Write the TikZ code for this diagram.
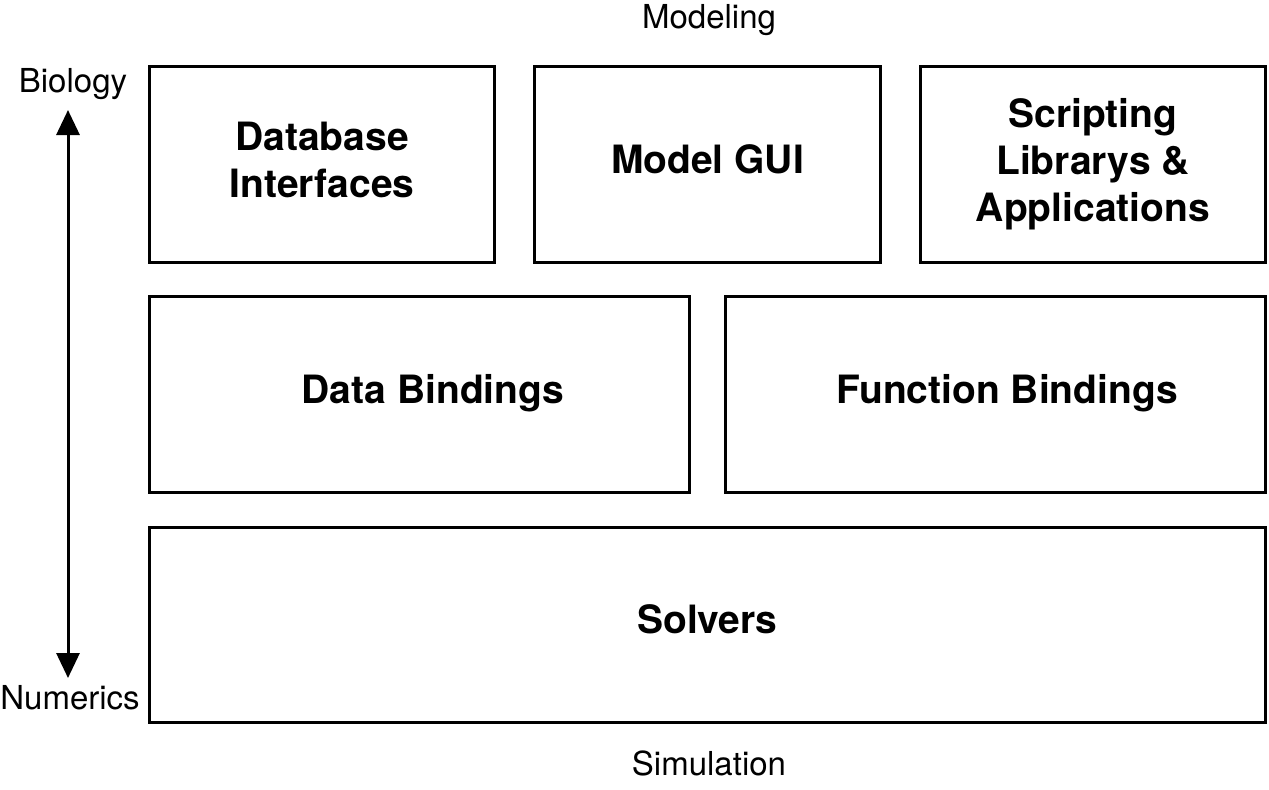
\documentclass[tikz,border=0pt]{standalone}
\usepackage{fontspec}
\setmainfont{TeX Gyre Heros}
\usetikzlibrary{positioning}
\usetikzlibrary{arrows.meta}

\tikzset{
    layer/.style={draw, line width=1.5pt, align=center, inner sep=0pt,
        font=\fontsize{19.5}{23.5}\selectfont\bfseries},
    single/.style={text height=14pt, text depth=5.5pt},
    axislabel/.style={font=\fontsize{16.5}{19}\selectfont, inner sep=0pt}
}

\begin{document}
\begin{tikzpicture}[x=0.5pt, y=-0.5pt]
    \useasboundingbox (0,0) rectangle (1269,789); % page size as the image
    % top row
    \node[layer, minimum width=172.5pt, minimum height=98pt] (dbif) at (322,164.5) {Database\\Interfaces\vphantom{g}};
    \node[layer, single, minimum width=173pt, minimum height=98pt] (gui) at (707.5,164.5) {Model GUI};
    \node[layer, minimum width=172.5pt, minimum height=98pt] (script) at (1093,164.5) {Scripting\\Librarys \&\\Applications};
    % middle row
    \node[layer, single, minimum width=270pt, minimum height=98pt] (data) at (419.5,394.5) {\kern13.5pt Data Bindings};
    \node[layer, single, minimum width=270pt, minimum height=98pt] (func) at (995.5,394.5) {\kern11.5pt Function Bindings};
    % bottom row
    \node[layer, single, minimum width=558pt, minimum height=97.5pt] (solv) at (707.5,625) {Solvers};
    % labels around
    \node[axislabel] (model) at (709,20) {Modeling};
    \node[axislabel] (sim) at (709,763) {Simulation};
    \node[axislabel] (bio) at (73,84) {Biology};
    \node[axislabel] (num) at (70,698) {Numerics};
    \coordinate (top) at (68,110);
    \coordinate (bot) at (68,678);
    \draw[line width=1.5pt, {Triangle[width=11.5pt,length=12.5pt]}-{Triangle[width=11.5pt,length=12.5pt]}] (top) -- (bot);
\end{tikzpicture}
\end{document}
